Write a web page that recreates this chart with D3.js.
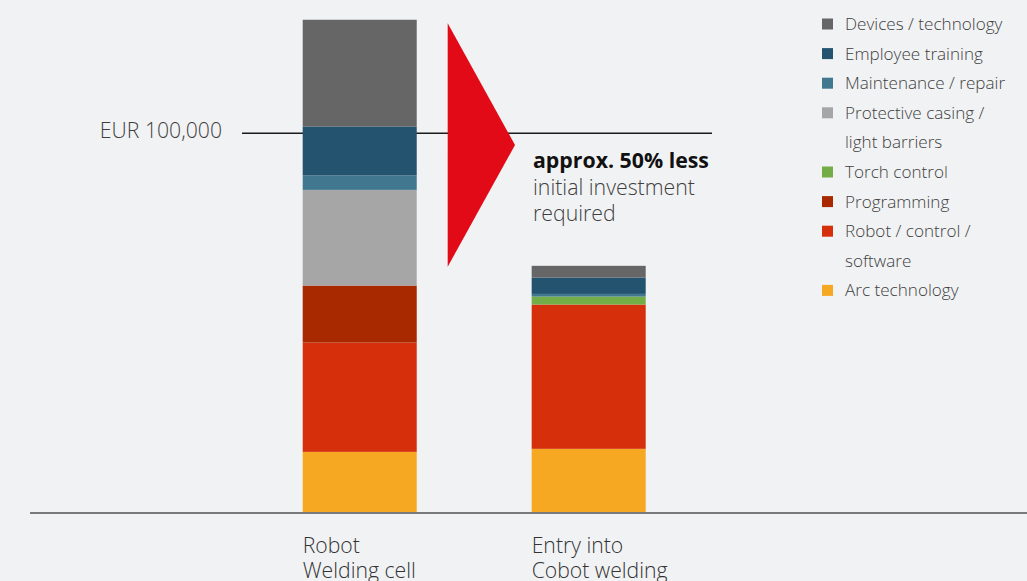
<!DOCTYPE html>
<html>
<head>
<meta charset="utf-8">
<script src="https://cdn.jsdelivr.net/npm/d3@7"></script>
<style>
  html, body { margin: 0; padding: 0; background: #f1f2f4; }
  svg { display: block; font-family: "Open Sans", "Noto Sans", sans-serif; }
</style>
</head>
<body>
<script>
// values in thousand EUR
var categories = ["Robot\nWelding cell", "Entry into\nCobot welding"];
var seriesNames = ["Arc technology", "Robot / control / software", "Programming", "Torch control",
                   "Protective casing / light barriers", "Maintenance / repair", "Employee training", "Devices / technology"];
var robotCell = [16.1, 28.8, 15.0, 0, 25.2, 3.8, 12.9, 28.1];
var cobotEntry = [16.9, 38.0, 0, 2.1, 0, 0.7, 4.3, 3.1];
var legendLabels = [["Devices / technology"], ["Employee training"], ["Maintenance / repair"],
                    ["Protective casing /", "light barriers"], ["Torch control"], ["Programming"],
                    ["Robot / control /", "software"], ["Arc technology"]];
var referenceValue = 100;
var referenceLabel = "EUR 100,000";
var noteLines = ["approx. 50% less", "initial investment", "required"];

var colors = ["#f7a823", "#d62f0c", "#a82800", "#72ad47", "#a6a6a7", "#41778f", "#23536f", "#666666"];

var width = 1027, height = 581;
var svg = d3.select("body").append("svg").attr("width", width).attr("height", height);

var rows = categories.map(function(c, i) {
  var r = { cat: c };
  var vals = i === 0 ? robotCell : cobotEntry;
  seriesNames.forEach(function(s, j) { r[s] = vals[j]; });
  return r;
});

var stack = d3.stack().keys(seriesNames)(rows);

var x = d3.scaleBand().domain(categories).range([302.7, 645.7]).paddingInner(0.502);
var y = d3.scaleLinear().domain([0, 100]).range([513, 133.3]);
var color = d3.scaleOrdinal().domain(seriesNames).range(colors);

// reference line
svg.append("line")
  .attr("x1", 242).attr("x2", 712)
  .attr("y1", y(referenceValue)).attr("y2", y(referenceValue))
  .attr("stroke", "#1a1a1a").attr("stroke-width", 1.6);

svg.append("text")
  .attr("x", 222).attr("y", y(referenceValue) + 4.5)
  .attr("text-anchor", "end")
  .attr("font-size", 21.2).attr("font-weight", 300).attr("fill", "#3f3f3f")
  .text(referenceLabel);

// bars
svg.append("g").selectAll("g").data(stack).join("g")
  .attr("fill", function(d) { return color(d.key); })
  .selectAll("rect").data(function(d) { return d; }).join("rect")
  .attr("x", function(d) { return x(d.data.cat); })
  .attr("width", x.bandwidth())
  .attr("y", function(d) { return y(d[1]); })
  .attr("height", function(d) { return y(d[0]) - y(d[1]); });

// baseline
svg.append("line")
  .attr("x1", 30).attr("x2", width)
  .attr("y1", y(0)).attr("y2", y(0))
  .attr("stroke", "#7a7a7a").attr("stroke-width", 2);

// red arrow
svg.append("path")
  .attr("d", "M447.7,23.3 L515,145 L447.7,266.7 Z")
  .attr("fill", "#e20a17");

// note
var note = svg.append("text").attr("x", 533).attr("fill", "#3f3f3f");
noteLines.forEach(function(t, i) {
  note.append("tspan").attr("x", 533).attr("y", 168 + i * 26.5)
    .attr("font-size", i === 0 ? 21.3 : 21.3)
    .attr("font-weight", i === 0 ? 700 : 300)
    .attr("fill", i === 0 ? "#111" : "#3f3f3f")
    .text(t);
});

// category labels
categories.forEach(function(c) {
  var t = svg.append("text").attr("font-size", 21.2).attr("font-weight", 300).attr("fill", "#333");
  c.split("\n").forEach(function(line, i) {
    t.append("tspan").attr("x", x(c)).attr("y", 553 + i * 25).text(line);
  });
});

// legend
var rowH = 29.6, ly = 24;
var legend = svg.append("g");
legendLabels.forEach(function(lines, i) {
  var key = seriesNames[seriesNames.length - 1 - i];
  legend.append("rect")
    .attr("x", 822).attr("y", ly - 5.5).attr("width", 11).attr("height", 11)
    .attr("fill", color(key));
  lines.forEach(function(l, k) {
    legend.append("text")
      .attr("x", 845).attr("y", ly + k * rowH + 6)
      .attr("font-size", 17.1).attr("font-weight", 300).attr("fill", "#3f3f3f")
      .text(l);
  });
  ly += lines.length * rowH;
});
</script>
</body>
</html>
